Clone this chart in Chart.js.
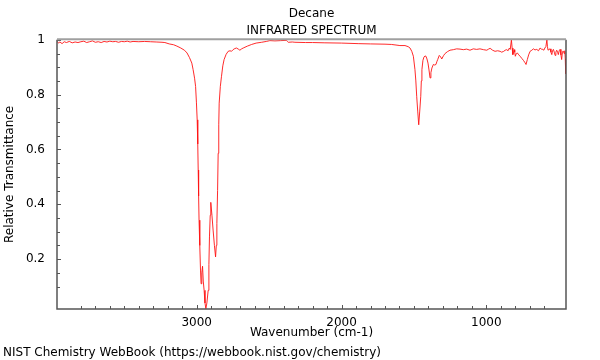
<!DOCTYPE html>
<html>
<head>
<meta charset="utf-8">
<script src="https://cdn.jsdelivr.net/npm/chart.js@4"></script>
<style>
  html, body { margin: 0; padding: 0; background: #fff; }
  #wrap { position: relative; width: 600px; height: 360px; }
  #footer { position: absolute; left: 3px; top: 345px; font: 12px "DejaVu Sans"; color: #000; white-space: nowrap; }
</style>
</head>
<body>
<div id="wrap">
  <canvas id="myChart" width="600" height="360"></canvas>
  <div id="footer">NIST Chemistry WebBook (https://webbook.nist.gov/chemistry)</div>
</div>
<script>
// Spectrum //
const wavenumbers = [3965, 3955, 3945, 3930, 3915, 3900, 3880, 3860, 3840, 3820, 3800, 3780, 3760, 3740, 3720, 3700, 3680, 3660, 3640, 3620, 3600, 3580, 3560, 3540, 3520, 3500, 3480, 3460, 3440, 3400, 3360, 3320, 3280, 3240, 3220, 3190, 3160, 3137, 3110, 3085, 3067, 3050, 3034, 3025, 3015, 3008, 3002, 2997, 2993, 2990, 2987, 2984, 2979, 2974, 2970, 2965, 2960, 2955, 2949, 2943, 2937, 2930, 2921, 2916, 2912, 2907, 2903, 2895, 2887, 2878, 2870, 2865, 2861, 2856, 2852, 2848, 2845, 2837, 2829, 2820, 2811, 2797, 2783, 2770, 2760, 2749, 2737, 2725, 2713, 2702, 2690, 2679, 2650, 2621, 2590, 2552, 2520, 2495, 2460, 2420, 2380, 2374, 2368, 2340, 2322, 2250, 2200, 2115, 2000, 1885, 1800, 1700, 1654, 1597, 1562, 1540, 1527, 1515, 1504, 1493, 1487, 1481, 1474, 1467, 1460, 1453, 1449, 1445, 1438, 1431, 1424, 1417, 1410, 1403, 1396, 1389, 1383, 1376, 1366, 1357, 1348, 1342, 1336, 1325, 1316, 1308, 1296, 1285, 1268, 1251, 1228, 1205, 1182, 1159, 1136, 1113, 1090, 1067, 1044, 1020, 997, 985, 974, 957, 940, 922, 905, 895, 883, 870, 859, 850, 841, 835, 827, 822, 817, 812, 808, 804, 800, 793, 786, 776, 767, 755, 744, 735, 726, 717, 708, 698, 686, 675, 664, 652, 640, 629, 620, 610, 603, 596, 589, 582, 578, 574, 567, 560, 554, 548, 543, 537, 531, 525, 520, 514, 508, 503, 497, 491, 485, 480, 476, 473, 467, 462, 458, 455, 452];
const transmittance = [0.995, 0.988, 0.992, 0.986, 0.993, 0.990, 0.994, 0.989, 0.992, 0.990, 0.993, 0.995, 0.990, 0.993, 0.996, 0.991, 0.993, 0.990, 0.994, 0.992, 0.995, 0.993, 0.994, 0.991, 0.994, 0.993, 0.995, 0.992, 0.994, 0.993, 0.994, 0.993, 0.992, 0.991, 0.990, 0.985, 0.982, 0.977, 0.970, 0.962, 0.952, 0.935, 0.915, 0.891, 0.86, 0.83, 0.77, 0.708, 0.62, 0.525, 0.43, 0.342, 0.25, 0.16, 0.11, 0.15, 0.174, 0.12, 0.086, 0.04, 0.019, 0.04, 0.086, 0.18, 0.281, 0.36, 0.407, 0.36, 0.306, 0.25, 0.208, 0.25, 0.33, 0.45, 0.586, 0.69, 0.769, 0.83, 0.867, 0.905, 0.928, 0.947, 0.958, 0.960, 0.958, 0.964, 0.968, 0.970, 0.966, 0.962, 0.967, 0.970, 0.977, 0.983, 0.988, 0.991, 0.994, 0.997, 0.996, 0.997, 0.998, 0.994, 0.991, 0.992, 0.991, 0.990, 0.990, 0.989, 0.988, 0.986, 0.985, 0.984, 0.983, 0.979, 0.979, 0.975, 0.970, 0.958, 0.940, 0.891, 0.85, 0.794, 0.74, 0.69, 0.74, 0.794, 0.85, 0.891, 0.925, 0.937, 0.941, 0.940, 0.930, 0.915, 0.89, 0.861, 0.88, 0.897, 0.910, 0.908, 0.910, 0.920, 0.928, 0.943, 0.938, 0.930, 0.942, 0.950, 0.957, 0.962, 0.964, 0.967, 0.966, 0.964, 0.966, 0.962, 0.967, 0.965, 0.967, 0.964, 0.962, 0.966, 0.969, 0.962, 0.958, 0.960, 0.958, 0.955, 0.957, 0.962, 0.964, 0.960, 0.970, 0.965, 1.0, 0.970, 0.946, 0.955, 0.964, 0.955, 0.940, 0.950, 0.952, 0.945, 0.940, 0.932, 0.925, 0.918, 0.910, 0.928, 0.945, 0.958, 0.962, 0.967, 0.963, 0.965, 0.960, 0.970, 0.966, 0.965, 0.962, 0.970, 0.975, 1.0, 0.975, 0.962, 0.965, 0.967, 0.955, 0.946, 0.960, 0.965, 0.955, 0.943, 0.955, 0.962, 0.955, 0.946, 0.960, 0.965, 0.945, 0.928, 0.950, 0.958, 0.958, 0.95, 0.96, 0.93, 0.876];

const xTickLabels = [3000, 2000, 1000];
const yTickLabels = [0.2, 0.4, 0.6, 0.8, 1];

Chart.defaults.font.family = "DejaVu Sans";
Chart.defaults.font.size = 12;
Chart.defaults.color = "#000";

const points = wavenumbers.map(function (w, i) {
    return { x: w, y: transmittance[i] };
});

function onStep(v, step) {
    return Math.abs(v / step - Math.round(v / step)) < 1e-6;
}

// ticks pointing inward + frame //
const tickMarks = {
    id: "tickMarks",
    afterDraw(chart) {
        const ctx = chart.ctx;
        const a = chart.chartArea;
        const x = chart.scales.x;
        const y = chart.scales.y;
        ctx.save();
        ctx.strokeStyle = "#555";
        ctx.lineWidth = 1;
        ctx.beginPath();
        x.ticks.forEach(function (t) {
            if (!onStep(t.value, 100)) return;
            const px = Math.round(x.getPixelForValue(t.value)) + 0.5;
            const len = xTickLabels.includes(t.value) ? 4 : 3;
            ctx.moveTo(px, a.bottom);
            ctx.lineTo(px, a.bottom - len);
        });
        y.ticks.forEach(function (t) {
            if (!onStep(t.value, 0.05)) return;
            const py = Math.round(y.getPixelForValue(t.value)) + 0.5;
            const len = yTickLabels.some(function (l) { return Math.abs(l - t.value) < 1e-6; }) ? 4 : 3;
            ctx.moveTo(a.left, py);
            ctx.lineTo(a.left + len, py);
        });
        ctx.stroke();

        ctx.lineWidth = 1.5;
        ctx.beginPath();
        ctx.moveTo(a.left, a.top);
        ctx.lineTo(a.left, a.bottom);
        ctx.lineTo(a.right, a.bottom);
        ctx.lineTo(a.right, a.top);
        ctx.stroke();

        ctx.strokeStyle = "#a0a0a0";
        ctx.lineWidth = 2;
        ctx.beginPath();
        ctx.moveTo(a.left, a.top - 0.5);
        ctx.lineTo(a.right, a.top - 0.5);
        ctx.stroke();
        ctx.restore();
    }
};

const config = {
    type: "line",
    data: {
        datasets: [
            {
                data: points,
                borderColor: "rgba(255, 20, 20, 0.9)",
                borderWidth: 1,
                pointRadius: 0,
                tension: 0,
                fill: false,
            },
        ],
    },
    options: {
        responsive: false,
        animation: false,
        layout: { padding: { left: 0, right: 34, top: 0, bottom: 20 } },
        plugins: {
            legend: { display: false },
            tooltip: { enabled: false },
            title: {
                display: true,
                text: "Decane",
                fullSize: false,
                font: { size: 12, weight: "normal" },
                padding: { top: 7, bottom: 1 },
            },
            subtitle: {
                display: true,
                text: "INFRARED SPECTRUM",
                fullSize: false,
                font: { size: 12 },
                color: "#000",
                padding: { top: 1, bottom: 2 },
            },
        },
        scales: {
            x: {
                type: "linear",
                reverse: true,
                min: 450,
                max: 3965,
                grid: { display: false },
                border: { display: false },
                ticks: {
                    stepSize: 100,
                    autoSkip: false,
                    maxRotation: 0,
                    padding: -1,
                    callback: function (v) {
                        return xTickLabels.includes(v) ? String(v) : "";
                    },
                },
                title: {
                    display: true,
                    text: "Wavenumber (cm-1)",
                    padding: { top: 0, bottom: 0 },
                },
                afterFit: function (scale) { scale.height = 31; },
            },
            y: {
                min: 0.018,
                max: 1,
                grid: { display: false },
                border: { display: false },
                ticks: {
                    stepSize: 0.05,
                    autoSkip: false,
                    padding: 4,
                    callback: function (v) {
                        const l = yTickLabels.find(function (l) { return Math.abs(l - v) < 1e-6; });
                        return l === undefined ? "" : String(l);
                    },
                },
                title: {
                    display: true,
                    text: "Relative Transmittance",
                    padding: { top: 3, bottom: 0 },
                },
                afterFit: function (scale) { scale.width = 57; },
            },
        },
    },
    plugins: [tickMarks],
};

const myChart = new Chart(document.getElementById("myChart"), config);
</script>
</body>
</html>
